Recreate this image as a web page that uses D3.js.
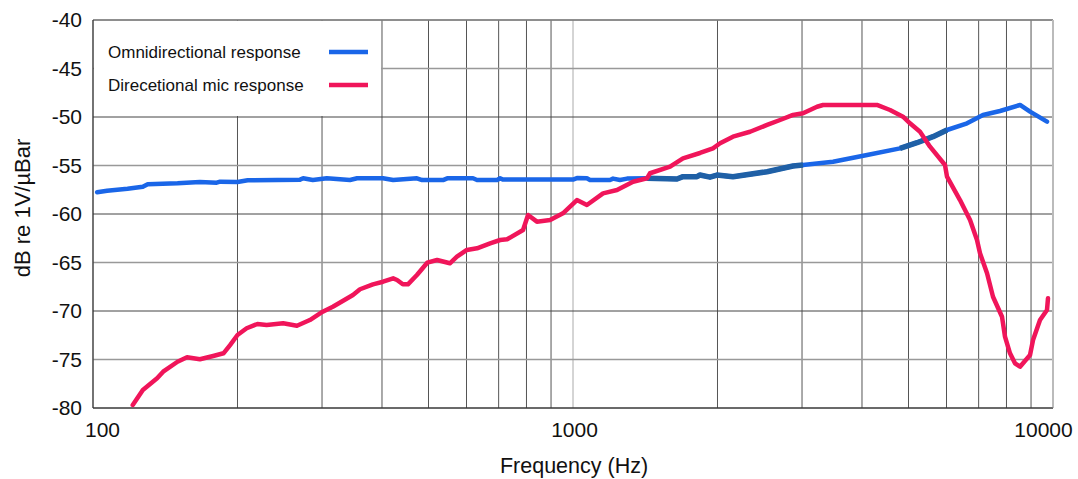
<!DOCTYPE html>
<html lang="en">
<head>
  <meta charset="UTF-8">
  <title></title>
  <style>
    html, body {
      margin: 0;
      overflow: hidden;
      width: 100%;
      height: 100%;
      background: #fff;
    }

    svg {
      position: absolute;
      top: 0;
      left: 0;
      font-family: "Liberation Sans", Arial, sans-serif;
    }
  </style>
</head>
<body>
  <svg width="1078" height="479"></svg>
</body>
<script src="https://d3js.org/d3.v7.min.js"></script>
<script type="text/javascript">
  const freqTicks = [100, 1000, 10000]
  const dbTicks = [-80, -75, -70, -65, -60, -55, -50, -45, -40]
  const seriesNames = ['Omnidirectional response', 'Direcetional mic response']

  const omniFreq = [102, 107, 118, 127, 130, 150, 167, 181, 184, 200, 210, 270, 274, 287, 307, 343, 355, 402, 422,
    473, 485, 536, 547, 619, 631, 695, 705, 715, 1000, 1019, 1069, 1085, 1194, 1212, 1253, 1296, 1426, 1647, 1695,
    1813, 1839, 1929, 1995, 2154, 2537, 2873, 3014, 3481, 4099, 4800, 5209, 5623, 6014, 6621, 7147, 7756, 8537,
    8957, 9716]
  const omniDb = [-57.76, -57.6, -57.39, -57.19, -56.94, -56.84, -56.7, -56.77, -56.67, -56.7, -56.53, -56.46,
    -56.32, -56.49, -56.32, -56.49, -56.32, -56.32, -56.5, -56.32, -56.5, -56.5, -56.32, -56.32, -56.5, -56.5,
    -56.32, -56.45, -56.45, -56.3, -56.32, -56.5, -56.5, -56.35, -56.5, -56.35, -56.32, -56.39, -56.15, -56.15,
    -55.98, -56.2, -55.98, -56.15, -55.64, -55.05, -54.95, -54.61, -53.92, -53.23, -52.65, -52.03, -51.34,
    -50.65, -49.79, -49.38, -48.76, -49.45, -50.48]
  // stretches of the omni trace drawn in the darker blue
  const omniDarkRanges = [[1426, 3014], [4800, 6014]]

  const dirFreq = [121, 127, 136, 140, 150, 157, 167, 178, 187, 193, 200, 209, 220, 230, 249, 266, 283, 301, 316,
    348, 360, 383, 402, 422, 430, 442, 453, 473, 497, 521, 554, 573, 601, 631, 672, 705, 729, 787, 806, 841, 896,
    953, 1019, 1069, 1155, 1235, 1334, 1426, 1447, 1593, 1695, 1839, 1957, 2025, 2154, 2338, 2537, 2700, 2873,
    3014, 3224, 3318, 4298, 4576, 4870, 5036, 5284, 5544, 5957, 6014, 6401, 6717, 6945, 7046, 7288, 7499, 7830,
    7943, 8136, 8333, 8537, 8957, 9087, 9396, 9716, 9763]
  const dirDb = [-79.69, -78.14, -76.94, -76.26, -75.23, -74.77, -74.98, -74.64, -74.36, -73.51, -72.47, -71.78,
    -71.34, -71.44, -71.27, -71.52, -70.93, -70.07, -69.56, -68.35, -67.76, -67.25, -66.98, -66.63, -66.8, -67.25,
    -67.25, -66.29, -65.02, -64.74, -65.08, -64.4, -63.71, -63.54, -63.02, -62.68, -62.61, -61.65, -60.1, -60.79,
    -60.62, -59.93, -58.56, -59.07, -57.87, -57.53, -56.67, -56.32, -55.8, -55.12, -54.26, -53.71, -53.23, -52.71,
    -52.03, -51.52, -50.82, -50.31, -49.79, -49.62, -48.94, -48.76, -48.76, -49.28, -49.97, -50.65, -51.52,
    -53.06, -54.95, -56.15, -58.56, -60.62, -62.68, -64.05, -66.11, -68.53, -70.59, -72.65, -74.36, -75.39,
    -75.74, -74.54, -72.99, -70.93, -69.9, -68.69]

  const svg = d3.select('svg')
  const width = 1078
  const height = 479
  const margin = { top: 20, right: 25, bottom: 71, left: 93 }

  const x = d3.scaleLog()
    .domain([100, 10000])
    .range([margin.left, width - margin.right])
  const y = d3.scaleLinear()
    .domain([-80, -40])
    .range([height - margin.bottom, margin.top])

  const omni = omniFreq.map((f, i) => ({ f, db: omniDb[i] }))
  const dir = dirFreq.map((f, i) => ({ f, db: dirDb[i] }))

  // grid
  const grid = svg.append('g')
  grid.selectAll('line.v')
    .data(x.ticks())
    .enter()
    .append('line')
    .attr('x1', d => x(d))
    .attr('x2', d => x(d))
    .attr('y1', y(-80))
    .attr('y2', y(-40))
    .attr('stroke', d => freqTicks.includes(d) ? '#aaa' : '#555')
    .attr('stroke-width', 1)
  grid.selectAll('line.h')
    .data(dbTicks)
    .enter()
    .append('line')
    .attr('x1', x(100))
    .attr('x2', x(10000))
    .attr('y1', d => y(d))
    .attr('y2', d => y(d))
    .attr('stroke', d => d % 10 === 0 ? '#444' : '#999')
    .attr('stroke-width', d => d % 10 === 0 ? 1 : 1.5)

  // legend sits on a white patch that hides the grid
  svg.append('rect')
    .attr('x', x(100) + 1)
    .attr('y', y(-40) + 1)
    .attr('width', x(400) - x(100) - 2)
    .attr('height', y(-50) - y(-40) - 2)
    .attr('fill', '#fff')

  // frame
  svg.append('line')
    .attr('x1', x(100)).attr('x2', x(10000))
    .attr('y1', y(-40)).attr('y2', y(-40))
    .attr('stroke', '#888').attr('stroke-width', 1.5)
  svg.append('line')
    .attr('x1', x(10000)).attr('x2', x(10000))
    .attr('y1', y(-40)).attr('y2', y(-80))
    .attr('stroke', '#bbb').attr('stroke-width', 2)
  svg.append('line')
    .attr('x1', x(100)).attr('x2', x(100))
    .attr('y1', y(-40)).attr('y2', y(-80))
    .attr('stroke', '#333').attr('stroke-width', 1.2)
  svg.append('line')
    .attr('x1', x(100)).attr('x2', x(10000))
    .attr('y1', y(-80)).attr('y2', y(-80))
    .attr('stroke', '#333').attr('stroke-width', 1.2)

  // axes
  const xAxis = svg.append('g')
    .attr('transform', `translate(0,${y(-80)})`)
    .call(d3.axisBottom(x).tickValues(freqTicks).tickSize(0).tickPadding(14).tickFormat(d3.format('d')))
  xAxis.select('.domain').remove()
  xAxis.selectAll('text')
    .attr('font-size', 21)
    .attr('font-family', '"Liberation Sans", Arial, sans-serif')
    .attr('fill', '#111')
    .attr('dx', d => d === 100 ? 9 : d === 10000 ? -10 : 1)

  const yAxis = svg.append('g')
    .attr('transform', `translate(${x(100)},0)`)
    .call(d3.axisLeft(y).tickValues(dbTicks).tickSize(0).tickPadding(11).tickFormat(d => String(d)))
  yAxis.select('.domain').remove()
  yAxis.selectAll('text')
    .attr('font-size', 21)
    .attr('font-family', '"Liberation Sans", Arial, sans-serif')
    .attr('fill', '#111')

  svg.append('text')
    .attr('x', 574)
    .attr('y', 473)
    .attr('text-anchor', 'middle')
    .attr('font-size', 21.5)
    .attr('fill', '#111')
    .text('Frequency (Hz)')

  svg.append('text')
    .attr('transform', 'translate(30,208) rotate(-90)')
    .attr('text-anchor', 'middle')
    .attr('font-size', 22)
    .attr('fill', '#111')
    .text('dB re 1V/µBar')

  // curves
  const line = d3.line()
    .x(d => x(d.f))
    .y(d => y(d.db))

  svg.append('path')
    .datum(omni)
    .attr('d', line)
    .attr('fill', 'none')
    .attr('stroke', '#1a66e8')
    .attr('stroke-width', 4.5)
    .attr('stroke-linejoin', 'round')
    .attr('stroke-linecap', 'round')

  svg.selectAll('path.dark')
    .data(omniDarkRanges)
    .enter()
    .append('path')
    .attr('d', r => line(omni.filter(p => p.f >= r[0] && p.f <= r[1])))
    .attr('fill', 'none')
    .attr('stroke', '#1f60a6')
    .attr('stroke-width', 5.5)
    .attr('stroke-linejoin', 'round')

  svg.append('path')
    .datum(dir)
    .attr('d', line)
    .attr('fill', 'none')
    .attr('stroke', '#f0155a')
    .attr('stroke-width', 4.5)
    .attr('stroke-linejoin', 'round')
    .attr('stroke-linecap', 'round')

  // legend
  const legendColors = ['#1a66e8', '#f0155a']
  const legend = svg.selectAll('g.legend')
    .data(seriesNames)
    .enter()
    .append('g')
    .attr('transform', (d, i) => `translate(108,${52 + i * 33})`)
  legend.append('text')
    .attr('y', 6)
    .attr('font-size', 17)
    .attr('fill', '#111')
    .text(d => d)
  legend.append('line')
    .attr('x1', 221)
    .attr('x2', 260)
    .attr('stroke', (d, i) => legendColors[i])
    .attr('stroke-width', 4.5)
</script>
</html>
